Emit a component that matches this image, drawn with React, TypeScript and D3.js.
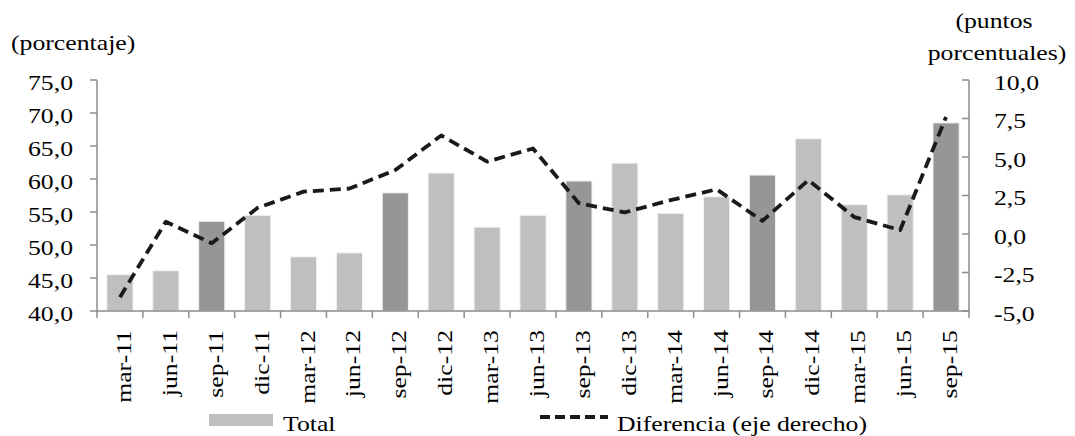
import { useEffect, useRef } from 'react'
import * as d3 from 'd3'

// ── data ─────────────────────────────────────────────────────────────────────
const categories = [
  'mar-11', 'jun-11', 'sep-11', 'dic-11', 'mar-12', 'jun-12', 'sep-12', 'dic-12',
  'mar-13', 'jun-13', 'sep-13', 'dic-13', 'mar-14', 'jun-14', 'sep-14', 'dic-14',
  'mar-15', 'jun-15', 'sep-15',
]
const total = [
  45.5, 46.1, 53.6, 54.5, 48.2, 48.8, 57.9, 60.9,
  52.7, 54.5, 59.7, 62.4, 54.8, 57.3, 60.6, 66.1,
  56.1, 57.6, 68.5,
]
const diferencia = [
  -4.1, 0.8, -0.6, 1.7, 2.75, 2.95, 4.15, 6.4,
  4.7, 5.55, 2.0, 1.4, 2.2, 2.9, 0.85, 3.5,
  1.1, 0.25, 7.6,
]
const leftTicks = [40, 45, 50, 55, 60, 65, 70, 75]
const rightTicks = [-5, -2.5, 0, 2.5, 5, 7.5, 10]

// ── constants ────────────────────────────────────────────────────────────────
const W = 1075
const H = 436
const M = { top: 80, right: 106, bottom: 125, left: 97 }
const LIGHT = '#bfbfbf'
const DARK = '#969696'
const AXIS = '#8c8c8c'
const FONT = '"Liberation Serif", "Times New Roman", serif'
const SX = 1.17   // the original type is stretched along the line of text

const fmt = (v: number) => v.toFixed(1).replace('.', ',')

export default function App() {
  const ref = useRef<SVGSVGElement>(null)

  useEffect(() => {
    if (!ref.current) return
    const svg = d3.select(ref.current)
    svg.selectAll('*').remove()

    const iW = W - M.left - M.right
    const iH = H - M.top - M.bottom
    const g = svg.append('g').attr('transform', `translate(${M.left},${M.top})`)

    const x = d3.scaleBand<string>().domain(categories).range([0, iW]).paddingInner(0.43).paddingOuter(0.215)
    const yL = d3.scaleLinear().domain([40, 75]).range([iH, 0])
    const yR = d3.scaleLinear().domain([-5, 10]).range([iH, 0])
    const step = x.step()

    // ── bars ──────────────────────────────────────────────────────────────
    g.append('g')
      .selectAll('rect')
      .data(categories)
      .join('rect')
        .attr('x', d => x(d)!)
        .attr('width', x.bandwidth())
        .attr('y', (_, i) => yL(total[i]))
        .attr('height', (_, i) => iH - yL(total[i]))
        .attr('fill', d => d.startsWith('sep') ? DARK : LIGHT)
        .attr('stroke', '#f2f2f2').attr('stroke-width', 1)

    // ── axes ──────────────────────────────────────────────────────────────
    const axisG = g.append('g').attr('stroke', AXIS).attr('stroke-width', 1.5)
    axisG.append('line').attr('x1', 0).attr('x2', 0).attr('y1', 0).attr('y2', iH)
    axisG.append('line').attr('x1', iW).attr('x2', iW).attr('y1', 0).attr('y2', iH)
    axisG.append('line').attr('x1', 0).attr('x2', iW).attr('y1', iH).attr('y2', iH)

    axisG.selectAll('line.lt').data(leftTicks).join('line')
      .attr('x1', -7).attr('x2', 0).attr('y1', d => yL(d)).attr('y2', d => yL(d))
    axisG.selectAll('line.rt').data(rightTicks).join('line')
      .attr('x1', iW - 7).attr('x2', iW).attr('y1', d => yR(d)).attr('y2', d => yR(d))
    axisG.selectAll('line.xt').data(d3.range(categories.length + 1)).join('line')
      .attr('x1', i => i * step).attr('x2', i => i * step).attr('y1', iH).attr('y2', iH + 7)

    const txt = g.append('g').attr('font-family', FONT).attr('font-size', 22).attr('fill', '#000')

    txt.selectAll('text.l').data(leftTicks).join('text')
      .attr('transform', d => `translate(-24,${yL(d)}) scale(${SX},1)`)
      .attr('dy', '0.45em').attr('text-anchor', 'end').text(d => fmt(d))
    txt.selectAll('text.r').data(rightTicks).join('text')
      .attr('transform', d => `translate(${iW + 25},${yR(d)}) scale(${SX},1)`)
      .attr('dy', '0.45em').attr('text-anchor', 'start').text(d => fmt(d))

    txt.selectAll('text.x').data(categories).join('text')
      .attr('transform', d => `translate(${x(d)! + x.bandwidth() / 2 + 11},${iH + 19}) rotate(-90) scale(${SX},1)`)
      .attr('text-anchor', 'end').text(d => d)

    // ── line ──────────────────────────────────────────────────────────────
    const line = d3.line<number>()
      .x((_, i) => x(categories[i])! + x.bandwidth() / 2)
      .y(d => yR(d))
    g.append('path').datum(diferencia)
      .attr('fill', 'none').attr('stroke', '#1a1a1a').attr('stroke-width', 3.8)
      .attr('stroke-dasharray', '11,6').attr('stroke-linejoin', 'round')
      .attr('d', line)

    // ── titles ────────────────────────────────────────────────────────────
    const top = svg.append('g').attr('font-family', FONT).attr('font-size', 22).attr('fill', '#000')
    const label = (tx: number, ty: number, s: string, anchor = 'start') =>
      top.append('text').attr('transform', `translate(${tx},${ty}) scale(${SX},1)`)
        .attr('text-anchor', anchor).text(s)
    label(11, 50, '(porcentaje)')
    label(994, 28, '(puntos', 'middle')
    label(997, 60, 'porcentuales)', 'middle')

    // ── legend ────────────────────────────────────────────────────────────
    top.append('rect').attr('x', 209).attr('y', 414).attr('width', 64).attr('height', 12).attr('fill', LIGHT)
    label(283, 431, 'Total')
    top.append('line').attr('x1', 540).attr('x2', 608).attr('y1', 417).attr('y2', 417)
      .attr('stroke', '#1a1a1a').attr('stroke-width', 3.8).attr('stroke-dasharray', '10,5')
    label(617, 431, 'Diferencia (eje derecho)')
  }, [])

  return (
    <svg
      ref={ref}
      width={W}
      height={H}
      viewBox={`0 0 ${W} ${H}`}
      style={{ position: 'absolute', left: 0, top: 0, display: 'block', background: '#fff' }}
    />
  )
}
